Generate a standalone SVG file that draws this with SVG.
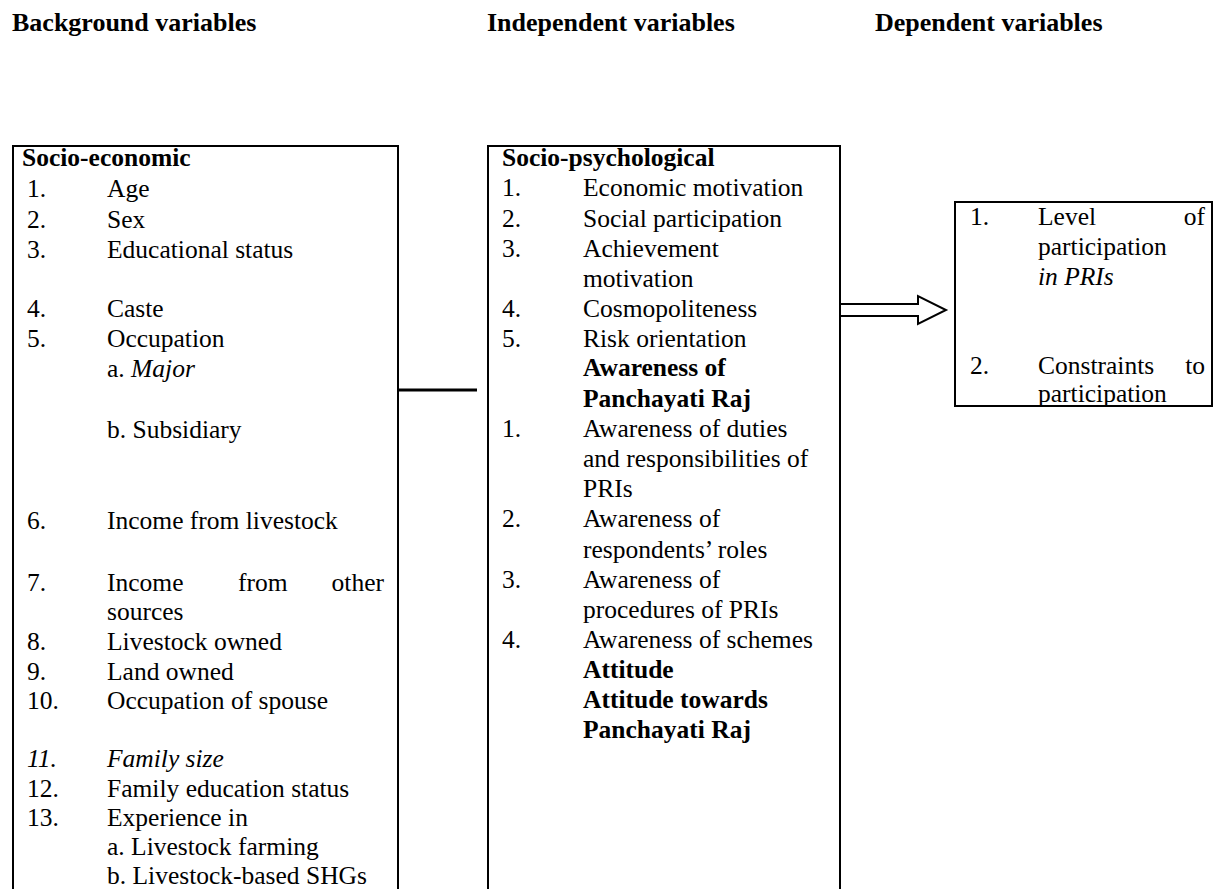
<svg xmlns="http://www.w3.org/2000/svg" width="1223" height="889" viewBox="0 0 1223 889">
<style>
text{font-family:"Liberation Serif","Times New Roman",serif;font-size:25.5px;fill:#000}
.h{font-weight:bold;font-size:26px}
.b{font-weight:bold}
.i{font-style:italic}
.e{text-anchor:end}
.box{fill:none;stroke:#000;stroke-width:2}
</style>
<rect width="1223" height="889" fill="#fff"/>
<g id="headers">
<text class="h" x="12" y="31">Background variables</text>
<text class="h" x="487" y="31">Independent variables</text>
<text class="h" x="875" y="31">Dependent variables</text>
</g>
<g id="background">
<path class="box" d="M13,892 V146 H398 V892"/>
<text class="b" x="22" y="166">Socio-economic</text>
<text x="27" y="197">1.</text><text x="107" y="197">Age</text>
<text x="27" y="228">2.</text><text x="107" y="228">Sex</text>
<text x="27" y="258">3.</text><text x="107" y="258">Educational status</text>
<text x="27" y="317">4.</text><text x="107" y="317">Caste</text>
<text x="27" y="347">5.</text><text x="107" y="347">Occupation</text>
<text x="107" y="377">a. <tspan class="i">Major</tspan></text>
<text x="107" y="438">b. Subsidiary</text>
<text x="27" y="529">6.</text><text x="107" y="529">Income from livestock</text>
<text x="27" y="591">7.</text><text x="107" y="591">Income</text><text x="238" y="591">from</text><text class="e" x="384" y="591">other</text>
<text x="107" y="620">sources</text>
<text x="27" y="650">8.</text><text x="107" y="650">Livestock owned</text>
<text x="27" y="680">9.</text><text x="107" y="680">Land owned</text>
<text x="27" y="709">10.</text><text x="107" y="709">Occupation of spouse</text>
<text class="i" x="27" y="767">11.</text><text class="i" x="107" y="767">Family size</text>
<text x="27" y="797">12.</text><text x="107" y="797">Family education status</text>
<text x="27" y="826">13.</text><text x="107" y="826">Experience in</text>
<text x="107" y="855">a. Livestock farming</text>
<text x="107" y="884">b. Livestock-based SHGs</text>
</g>
<g id="independent">
<path class="box" d="M488,892 V146 H840 V892"/>
<text class="b" x="502" y="166">Socio-psychological</text>
<text x="502" y="196">1.</text><text x="583" y="196">Economic motivation</text>
<text x="502" y="227">2.</text><text x="583" y="227">Social participation</text>
<text x="502" y="257">3.</text><text x="583" y="257">Achievement</text>
<text x="583" y="287">motivation</text>
<text x="502" y="317">4.</text><text x="583" y="317">Cosmopoliteness</text>
<text x="502" y="347">5.</text><text x="583" y="347">Risk orientation</text>
<text class="b" x="583" y="376">Awareness of</text>
<text class="b" x="583" y="407">Panchayati Raj</text>
<text x="502" y="437">1.</text><text x="583" y="437">Awareness of duties</text>
<text x="583" y="467">and responsibilities of</text>
<text x="583" y="497">PRIs</text>
<text x="502" y="527">2.</text><text x="583" y="527">Awareness of</text>
<text x="583" y="558">respondents’ roles</text>
<text x="502" y="588">3.</text><text x="583" y="588">Awareness of</text>
<text x="583" y="618">procedures of PRIs</text>
<text x="502" y="648">4.</text><text x="583" y="648">Awareness of schemes</text>
<text class="b" x="583" y="678">Attitude</text>
<text class="b" x="583" y="708">Attitude towards</text>
<text class="b" x="583" y="738">Panchayati Raj</text>
</g>
<g id="dependent">
<rect class="box" x="955" y="202" width="257" height="204"/>
<text x="970" y="225">1.</text><text x="1038" y="225">Level</text><text class="e" x="1205" y="225">of</text>
<text x="1038" y="255">participation</text>
<text class="i" x="1038" y="285">in PRIs</text>
<text x="970" y="374">2.</text><text x="1038" y="374">Constraints</text><text class="e" x="1205" y="374">to</text>
<text x="1038" y="402">participation</text>
</g>
<g id="connectors">
<line x1="398" y1="390" x2="477" y2="390" stroke="#000" stroke-width="3"/>
<path d="M840,304 H918 V296 L946,310 L918,324 V316 H840 Z" fill="#fff" stroke="#000" stroke-width="2" stroke-linejoin="miter"/>
</g>
</svg>
